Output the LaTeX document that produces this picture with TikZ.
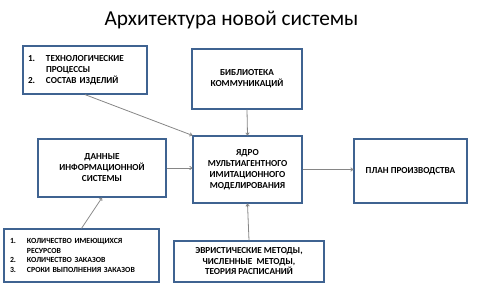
\documentclass[tikz,border=0pt]{standalone}
\usepackage{fontspec}
\setmainfont{Carlito}
\usepackage{xcolor}
\usepackage{tikz}
\usetikzlibrary{arrows.meta,positioning,calc}

\definecolor{boxline}{HTML}{3F6391}
\definecolor{arrowline}{HTML}{868686}

\tikzset{
  block/.style={draw=boxline,line width=1.2pt,fill=white,align=center,
    font=\bfseries\fontsize{9.2}{11}\selectfont,inner sep=2pt},
  listblock/.style={block,align=left,font=\bfseries\fontsize{9.2}{11}\selectfont},
  feed/.style={draw=arrowline,line width=0.8pt,-{To[length=3pt,width=4pt]}}
}
\newcommand{\itm}[2][18pt]{\makebox[#1][l]{#2}}

\begin{document}
\begin{tikzpicture}[x=1pt,y=-1pt]
\useasboundingbox (0,0) rectangle (477,295);
% heading
\node (title) at (231.5,20) {\fontsize{21.3}{24}\selectfont Архитектура новой системы};
% input lists
\node[listblock,text width=114pt,inner xsep=5pt,minimum height=48pt] (techbox) at (85,70)
  {\itm{1.}ТЕХНОЛОГИЧЕСКИЕ\\\itm{}ПРОЦЕССЫ\\\itm{2.}СОСТАВ ИЗДЕЛИЙ};
\node[listblock,text width=143pt,inner xsep=6pt,minimum height=53pt,
  font=\bfseries\fontsize{7.8}{9.8}\selectfont] (resbox) at (81.5,255.5)
  {\itm[17pt]{1.}КОЛИЧЕСТВО ИМЕЮЩИХСЯ\\\itm[17pt]{}РЕСУРСОВ\\\itm[17pt]{2.}КОЛИЧЕСТВО ЗАКАЗОВ\\\itm[17pt]{3.}СРОКИ ВЫПОЛНЕНИЯ ЗАКАЗОВ};
% main blocks
\node[block,minimum width=110pt,minimum height=60pt] (libbox) at (247,79)
  {БИБЛИОТЕКА\\КОММУНИКАЦИЙ};
\node[block,minimum width=109pt,minimum height=67pt] (corebox) at (247.5,169.5)
  {ЯДРО\\МУЛЬТИАГЕНТНОГО\\ИМИТАЦИОННОГО\\МОДЕЛИРОВАНИЯ};
\node[block,minimum width=128pt,minimum height=58pt] (databox) at (102,168)
  {ДАННЫЕ\\ИНФОРМАЦИОННОЙ\\СИСТЕМЫ};
\node[block,minimum width=113pt,minimum height=64pt] (planbox) at (410.5,171)
  {ПЛАН ПРОИЗВОДСТВА};
\node[block,minimum width=150pt,minimum height=41pt,
  font=\bfseries\fontsize{9.2}{10.5}\selectfont] (methbox) at (249,261.5)
  {ЭВРИСТИЧЕСКИЕ МЕТОДЫ,\\ЧИСЛЕННЫЕ~ МЕТОДЫ,\\ТЕОРИЯ РАСПИСАНИЙ};
% connectors
\draw[feed] (techbox.south) -- (corebox.north west);
\draw[feed] (libbox.south) -- (corebox.north);
\draw[feed] (databox.east) -- (databox.east -| corebox.west);
\draw[feed] (corebox.east) -- (corebox.east -| planbox.west);
\draw[feed] (methbox.north) -- (corebox.south);
\draw[feed] (resbox.north) -- (databox.south);
\end{tikzpicture}
\end{document}
